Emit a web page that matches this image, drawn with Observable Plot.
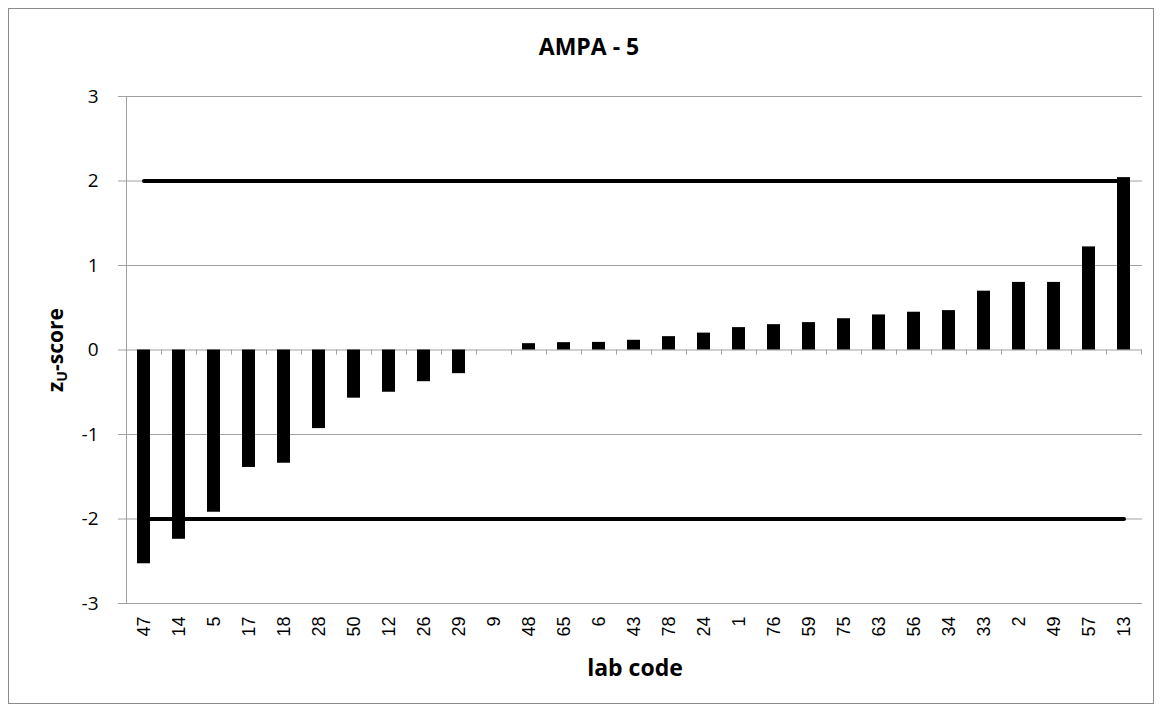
<!DOCTYPE html>
<html><head><meta charset="utf-8">
<script src="https://cdn.jsdelivr.net/npm/d3@7"></script>
<script src="https://cdn.jsdelivr.net/npm/@observablehq/plot@0.6"></script>
<style>
body{margin:0;background:#fff;}
#wrap{position:relative;width:1162px;height:711px;overflow:hidden;}
#border{position:absolute;left:8px;top:8px;width:1146px;height:696px;border:1px solid #8a8a8a;box-sizing:border-box;pointer-events:none;}
#chart{position:absolute;left:0;top:0;}
</style></head>
<body><div id="wrap"><div id="chart"></div><div id="border"></div></div>
<script>
const labs = ["47","14","5","17","18","28","50","12","26","29","9","48","65","6","43","78","24","1","76","59","75","63","56","34","33","2","49","57","13"];
const scores = [-2.53,-2.24,-1.92,-1.39,-1.34,-0.93,-0.57,-0.50,-0.375,-0.28,0,0.075,0.087,0.09,0.115,0.158,0.20,0.265,0.30,0.324,0.37,0.415,0.447,0.466,0.696,0.80,0.80,1.22,2.04];
const limits = [-2, 2];
const yTicks = [-3,-2,-1,0,1,2,3];
const title = "AMPA - 5";
const xTitle = "lab code";

const W = 1162, H = 711, ML = 126, MR = 20, MT = 96, MB = 108;
const step = (W - ML - MR) / labs.length;
const data = labs.map((lab, i) => ({lab, score: scores[i]}));
const limitRows = limits.flatMap(v => labs.map(lab => ({lab, v})));
const grid = "#a0a0a0";
const sans = "'Open Sans', Lato, sans-serif";

const chart = Plot.plot({
  width: W, height: H,
  marginLeft: ML, marginRight: MR, marginTop: MT, marginBottom: MB,
  style: {background: "white", overflow: "visible"},
  x: {type: "band", domain: labs, paddingInner: 0.615, paddingOuter: 0.3075, label: null},
  y: {domain: [-3, 3], label: null},
  marks: [
    Plot.ruleY(yTicks, {stroke: grid, strokeWidth: 1}),
    Plot.frame({anchor: "left", stroke: grid}),
    Plot.axisY({ticks: yTicks, tickSize: 8, tickPadding: 20, stroke: grid, fill: "black",
      tickFormat: d => String(d), fontSize: 19, fontFamily: sans, label: null}),
    Plot.axisX({anchor: "bottom", tickSize: 0, tickRotate: -90, tickPadding: 13, fontSize: 18,
      fontFamily: "'Liberation Sans', Arial, sans-serif", fill: "black", label: null}),
    Plot.ruleX(labs, {x: d => d, y1: 0, y2: 0, insetBottom: -5, dx: step / 2, stroke: grid}),
    Plot.barY(data, {x: "lab", y: "score", fill: "black"}),
    Plot.lineY(limitRows, {x: "lab", y: "v", z: "v", stroke: "black", strokeWidth: 4, strokeLinecap: "round"})
  ]
});
document.getElementById("chart").appendChild(chart);

const svg = d3.select(chart);
svg.append("text").attr("x", 589).attr("y", 55).attr("text-anchor", "middle")
  .attr("font-family", sans).attr("font-weight", "bold").attr("font-size", 23)
  .attr("fill", "black").text(title);
svg.append("text").attr("x", 635).attr("y", 676).attr("text-anchor", "middle")
  .attr("font-family", sans).attr("font-weight", "bold").attr("font-size", 23)
  .attr("fill", "black").text(xTitle);
const yt = svg.append("text").attr("transform", "translate(63,350) rotate(-90)").attr("text-anchor", "middle")
  .attr("font-family", sans).attr("font-weight", "bold").attr("font-size", 21)
  .attr("fill", "black");
yt.append("tspan").text("z");
yt.append("tspan").attr("font-size", 14).attr("dy", 4).text("U");
yt.append("tspan").attr("dy", -4).text("-score");
</script>
</body></html>
